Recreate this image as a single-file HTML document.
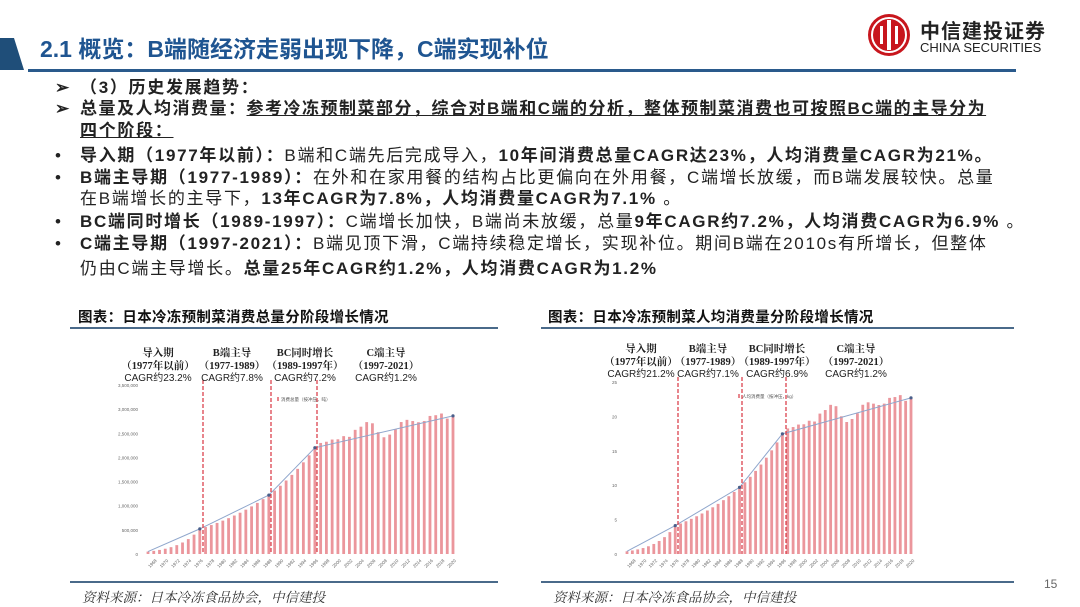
<!DOCTYPE html>
<html><head><meta charset="utf-8">
<style>
body{margin:0;width:1080px;height:607px;background:#fff;overflow:hidden;position:relative;font-family:"Liberation Sans","Noto Sans CJK SC",sans-serif;}
.abs{position:absolute;white-space:nowrap;}
.t{font-size:17px;color:#222;line-height:21px;letter-spacing:1.7px;}
b{font-weight:bold;}
.u{text-decoration:underline;}
.ct{font-size:14.5px;font-weight:bold;color:#111;letter-spacing:0.3px;}
.src{font-family:"Liberation Serif","Noto Serif CJK SC",serif;font-style:italic;font-size:13.5px;color:#333;}
</style></head><body>
<svg class="abs" style="left:0;top:0" width="1080" height="80">
<polygon points="0,38 14,38 24,70 0,70" fill="#1f4e79"/>
<rect x="28" y="69" width="988" height="3" fill="#2a5a8c"/>
<circle cx="889" cy="35" r="21" fill="#c8161d"/>
<circle cx="889" cy="35" r="17" fill="none" stroke="#fff" stroke-width="2"/>
<rect x="887" y="20" width="4" height="30" fill="#fff"/>
<rect x="880" y="26" width="3" height="18" fill="#fff"/><rect x="895" y="26" width="3" height="18" fill="#fff"/>
</svg>
<div class="abs" style="left:40px;top:30px;font-size:23px;font-weight:bold;color:#1f5591;">2.1 概览：B端随经济走弱出现下降，C端实现补位</div>
<div class="abs" style="left:920px;top:15px;font-size:20px;font-weight:bold;color:#222;letter-spacing:1px;">中信建投证券</div>
<div class="abs" style="left:920px;top:40px;font-size:13px;color:#222;">CHINA SECURITIES</div>

<div class="abs t" style="left:55px;top:77px;"><b>➢</b></div>
<div class="abs t" style="left:80px;top:77px;"><b>（3）历史发展趋势：</b></div>
<div class="abs t" style="left:55px;top:98px;"><b>➢</b></div>
<div class="abs t" style="left:80px;top:98px;letter-spacing:1.5px"><b>总量及人均消费量：<span class="u">参考冷冻预制菜部分，综合对B端和C端的分析，整体预制菜消费也可按照BC端的主导分为</span></b></div>
<div class="abs t" style="left:80px;top:120px;"><b class="u">四个阶段：</b></div>
<div class="abs t" style="left:55px;top:145px;">•</div>
<div class="abs t" style="left:80px;top:145px;"><b>导入期（1977年以前）：</b>B端和C端先后完成导入，<b>10年间消费总量CAGR达23%，人均消费量CAGR为21%。</b></div>
<div class="abs t" style="left:55px;top:167px;">•</div>
<div class="abs t" style="left:80px;top:167px;"><b>B端主导期（1977-1989）：</b>在外和在家用餐的结构占比更偏向在外用餐，C端增长放缓，而B端发展较快。总量</div>
<div class="abs t" style="left:80px;top:188px;">在B端增长的主导下，<b>13年CAGR为7.8%，人均消费量CAGR为7.1%</b> 。</div>
<div class="abs t" style="left:55px;top:211px;">•</div>
<div class="abs t" style="left:80px;top:211px;"><b>BC端同时增长（1989-1997）：</b>C端增长加快，B端尚未放缓，总量<b>9年CAGR约7.2%，人均消费CAGR为6.9%</b> 。</div>
<div class="abs t" style="left:55px;top:233px;">•</div>
<div class="abs t" style="left:80px;top:233px;"><b>C端主导期（1997-2021）：</b>B端见顶下滑，C端持续稳定增长，实现补位。期间B端在2010s有所增长，但整体</div>
<div class="abs t" style="left:80px;top:258px;">仍由C端主导增长。<b>总量25年CAGR约1.2%，人均消费CAGR为1.2%</b></div>

<div class="abs ct" style="left:78px;top:306px;">图表：日本冷冻预制菜消费总量分阶段增长情况</div>
<div class="abs ct" style="left:548px;top:306px;">图表：日本冷冻预制菜人均消费量分阶段增长情况</div>
<div class="abs" style="left:70px;top:327px;width:428px;height:2px;background:#4a6a8a"></div>
<div class="abs" style="left:541px;top:327px;width:473px;height:2px;background:#4a6a8a"></div>
<div class="abs" style="left:70px;top:581px;width:428px;height:2px;background:#4a6a8a"></div>
<div class="abs" style="left:541px;top:581px;width:473px;height:2px;background:#4a6a8a"></div>
<div class="abs src" style="left:82px;top:586px;">资料来源：日本冷冻食品协会，中信建投</div>
<div class="abs src" style="left:553px;top:586px;">资料来源：日本冷冻食品协会，中信建投</div>
<div class="abs" style="left:1044px;top:577px;font-size:12px;color:#666;">15</div>

<svg id="c1" class="abs" style="left:0;top:0" width="1080" height="607"></svg>
<script>
var tot=[];
for(var y=1968;y<=2021;y++){
 var x;
 if(y<=1977) x=50*Math.pow(520/50,(y-1968)/9);
 else if(y<=1989) x=520*Math.pow(1220/520,(y-1977)/12);
 else if(y<=1997) x=1220*Math.pow(2200/1220,(y-1989)/8);
 else x=2300+(2880-2300)*(y-1998)/23;
 var adj={2004:120,2005:160,2006:230,2007:180,2008:-30,2009:-160,2010:-130,2011:-50,2012:80,2013:100,2014:50,2017:80,2018:70,2019:80,2020:-50,2021:-20,2000:20,2002:40};
 if(adj[y]) x+=adj[y];
 tot.push(x);
}
var svg=document.getElementById('c1');var h='';
function chart(x0,x1,y0,ytop,maxv,vals,ticks,tl,dl,hx,hy,texts,keys,legx){
 var n=vals.length,step=(x1-x0)/(n-1);
 for(var i=0;i<ticks.length;i++){var yy=y0-(ticks[i]/maxv)*(y0-ytop);
  h+='<text x="'+(x0-10)+'" y="'+(yy+2)+'" font-size="4.5" fill="#666" text-anchor="end" font-family="Liberation Sans">'+tl[i]+'</text>';}
 for(var i=0;i<n;i++){var bx=x0+i*step,bh=vals[i]/maxv*(y0-ytop);
  h+='<rect x="'+(bx-1.4)+'" y="'+(y0-bh)+'" width="2.8" height="'+bh+'" fill="#eb969c"/>';
  if(i%2==0)h+='<text transform="translate('+(bx+2)+','+(y0+14)+') rotate(-45)" font-size="4.5" fill="#666" font-family="Liberation Sans">'+(1968+i)+'</text>';}
 var pts=[0,9,21,29,n-1],p='';
 pts.forEach(function(i){p+=(x0+i*step)+','+(y0-vals[i]/maxv*(y0-ytop))+' ';});
 h+='<polyline points="'+p+'" fill="none" stroke="#8fa6cc" stroke-width="1"/>';
 pts.slice(1).forEach(function(i){h+='<circle cx="'+(x0+i*step)+'" cy="'+(y0-vals[i]/maxv*(y0-ytop))+'" r="1.6" fill="#4a5f8a"/>';});
 dl.forEach(function(d){h+='<line x1="'+d+'" y1="'+(ytop-5)+'" x2="'+d+'" y2="'+(y0)+'" stroke="#d9343f" stroke-width="1.2" stroke-dasharray="4,2"/>';});
 h+='<rect x="'+legx+'" y="'+(ytop+12)+'" width="2" height="4" fill="#e8868d"/><text x="'+(legx+4)+'" y="'+(ytop+16)+'" font-size="4.5" fill="#555" font-family="Liberation Sans,Noto Sans CJK SC">'+keys+'</text>';
 for(var k=0;k<4;k++){for(var r=0;r<3;r++){
  h+='<text x="'+hx[k]+'" y="'+hy[r]+'" font-size="'+(r==2?10:10.5)+'" font-weight="'+(r==2?'normal':'bold')+'" fill="#222" text-anchor="middle" font-family="'+(r==2?'Liberation Sans,Noto Sans CJK SC,sans-serif':'Liberation Serif,Noto Serif CJK SC,serif')+'">'+texts[k][r]+'</text>';}}
}
chart(148,453,554,385,3500,tot,[0,500,1000,1500,2000,2500,3000,3500],['0','500,000','1,000,000','1,500,000','2,000,000','2,500,000','3,000,000','3,500,000'],[203,271,317],[158,232,305,386],[356,369,381],
 [['导入期','（1977年以前）','CAGR约23.2%'],['B端主导','（1977-1989）','CAGR约7.8%'],['BC同时增长','（1989-1997年）','CAGR约7.2%'],['C端主导','（1997-2021）','CAGR约1.2%']],'消费总量（按冲压，吨）',277);
chart(627,911,554,382,25,tot.map(function(x){return x/126;}),[0,5,10,15,20,25],['0','5','10','15','20','25'],[678,742,786],[641,708,777,856],[352,365,377],
 [['导入期','（1977年以前）','CAGR约21.2%'],['B端主导','（1977-1989）','CAGR约7.1%'],['BC同时增长','（1989-1997年）','CAGR约6.9%'],['C端主导','（1997-2021）','CAGR约1.2%']],'人均消费量（按冲压，kg）',738);
svg.innerHTML=h;
</script>
</body></html>
